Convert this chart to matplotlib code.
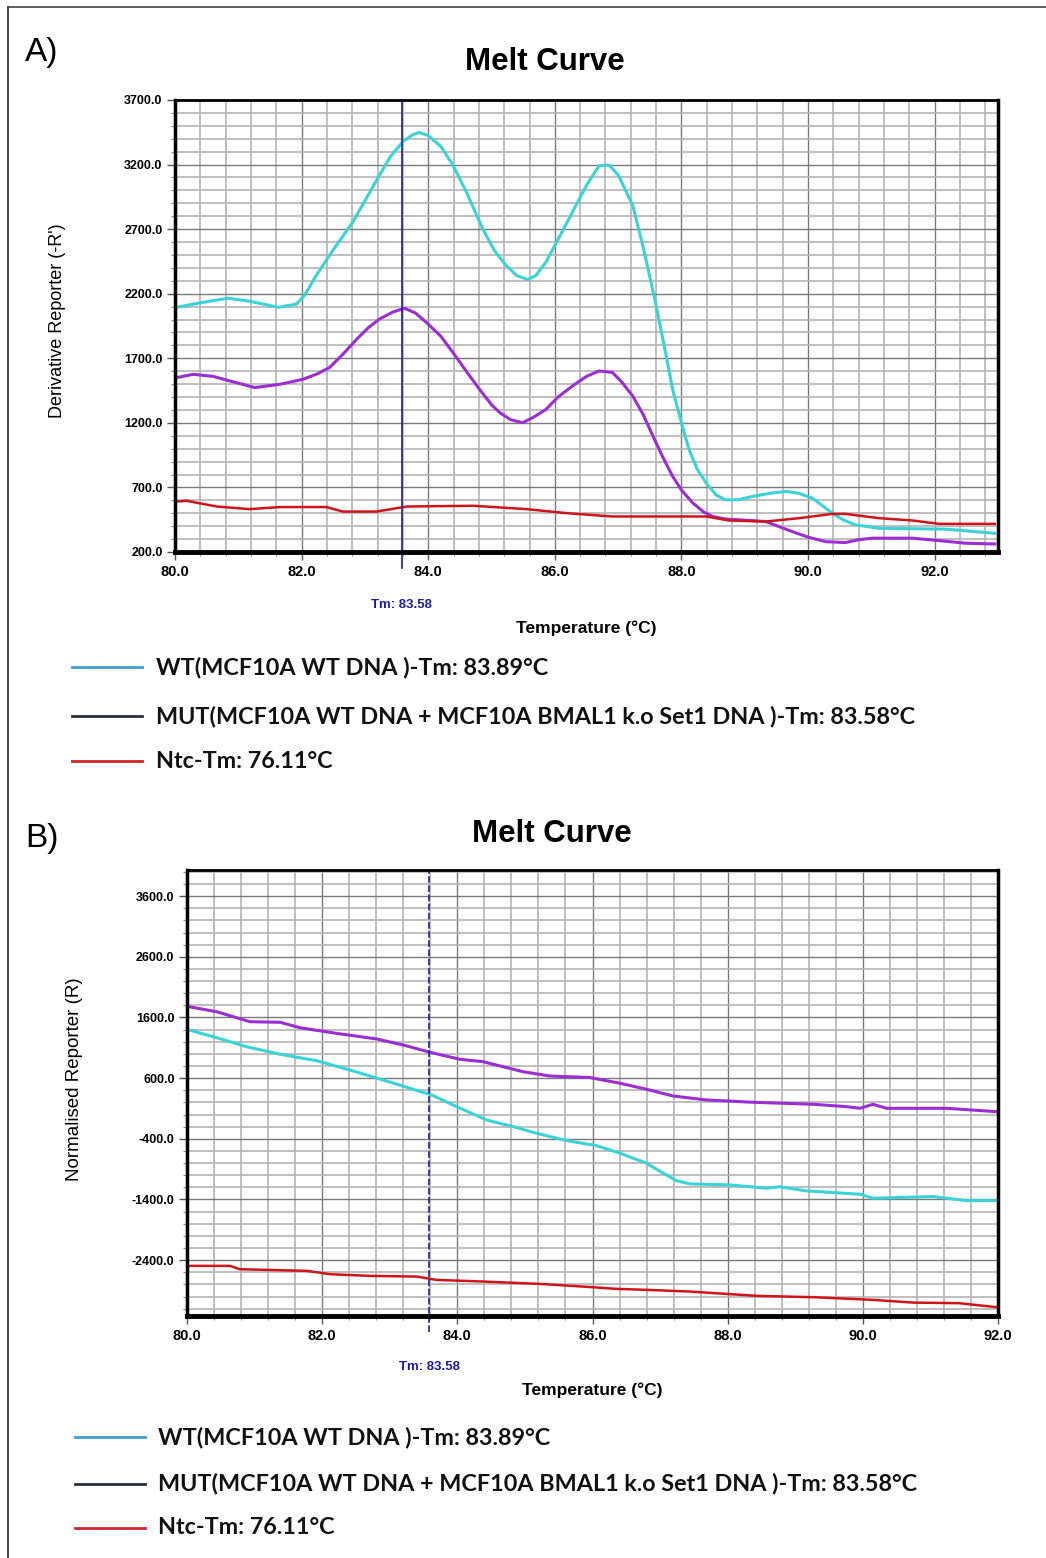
import numpy as np
import matplotlib
matplotlib.use("Agg")
import matplotlib.pyplot as plt
from matplotlib.lines import Line2D
from matplotlib.ticker import MultipleLocator, FormatStrFormatter

# ---- data: panel A, derivative reporter (-R') ----
a_wt_t = [80.03, 80.4, 80.84, 81.2, 81.63, 81.92, 82.05, 82.23, 82.5, 82.81, 83.0, 83.23,
          83.4, 83.6, 83.75, 83.86, 84.0, 84.2, 84.39, 84.6, 84.86, 85.05, 85.23, 85.4,
          85.57, 85.7, 85.86, 86.05, 86.28, 86.5, 86.7, 86.86, 87.0, 87.23, 87.4, 87.6,
          87.75, 87.86, 88.0, 88.12, 88.25, 88.39, 88.55, 88.7, 88.9, 89.12, 89.4, 89.65,
          89.85, 90.07, 90.25, 90.38, 90.55, 90.75, 91.12, 92.17, 92.95]
a_wt_v = [2095, 2130, 2165, 2140, 2095, 2120, 2190, 2341, 2540, 2756, 2920, 3118,
          3260, 3378, 3430, 3448, 3425, 3340, 3196, 2990, 2704, 2530, 2419, 2340,
          2310, 2340, 2445, 2620, 2834, 3040, 3191, 3195, 3120, 2885, 2550, 2108,
          1740, 1460, 1200, 993, 840, 734, 640, 604, 605, 630, 655, 669,
          655, 617, 550, 501, 450, 410, 384, 377, 345]

a_mut_t = [80.03, 80.29, 80.6, 80.87, 81.26, 81.66, 82.02, 82.25, 82.44, 82.65, 82.87, 83.05,
           83.23, 83.45, 83.63, 83.8, 83.97, 84.2, 84.39, 84.6, 84.81, 85.0, 85.13, 85.3,
           85.49, 85.65, 85.86, 86.05, 86.28, 86.5, 86.7, 86.91, 87.05, 87.23, 87.4, 87.55,
           87.7, 87.86, 88.0, 88.18, 88.35, 88.49, 88.7, 88.91, 89.33, 89.55, 89.75, 90.0,
           90.28, 90.59, 90.8, 91.01, 91.65, 91.96, 92.49, 92.95]
a_mut_v = [1551, 1576, 1560, 1524, 1473, 1499, 1537, 1580, 1628, 1730, 1848, 1935,
           2004, 2060, 2087, 2050, 1978, 1870, 1745, 1600, 1460, 1340, 1279, 1225,
           1201, 1240, 1304, 1400, 1486, 1560, 1602, 1590, 1520, 1408, 1260, 1097,
           940, 786, 680, 579, 510, 475, 455, 449, 436, 395, 358, 315,
           280, 273, 295, 307, 307, 293, 268, 262]

a_ntc_t = [80.03, 80.18, 80.66, 81.18, 81.66, 82.39, 82.65, 83.18, 83.66, 84.71, 85.55, 86.18,
           86.91, 88.39, 88.75, 89.33, 89.86, 90.38, 90.59, 91.12, 91.65, 92.07, 92.95]
a_ntc_v = [591, 597, 552, 532, 548, 548, 513, 513, 552, 558, 532, 501,
           475, 475, 444, 436, 462, 495, 495, 462, 444, 418, 418]

a_yticks = [200, 700, 1200, 1700, 2200, 2700, 3200, 3700]

# ---- data: panel B, normalised reporter (R) ----
b_wt_t = [80.03, 80.44, 80.88, 81.38, 81.92, 82.41, 82.90, 83.30, 83.62, 83.99, 84.43, 84.83,
          85.17, 85.62, 86.06, 86.41, 86.80, 87.05, 87.24, 87.44, 88.03, 88.58, 88.77, 89.17,
          89.96, 90.15, 91.04, 91.53, 91.98]
b_wt_v = [1393, 1266, 1118, 993, 887, 734, 570, 433, 322, 130, -89, -200,
          -308, -430, -513, -638, -803, -968, -1089, -1143, -1160, -1214, -1190, -1259,
          -1313, -1379, -1352, -1418, -1418]

b_mut_t = [80.03, 80.44, 80.93, 81.38, 81.67, 82.21, 82.81, 83.20, 83.62, 84.04, 84.38, 84.97,
           85.37, 85.96, 86.41, 86.80, 87.19, 87.69, 88.38, 89.27, 89.76, 89.96, 90.15, 90.35,
           91.24, 91.98]
b_mut_v = [1777, 1694, 1530, 1520, 1431, 1338, 1245, 1146, 1019, 910, 871, 706,
           635, 610, 515, 416, 306, 240, 202, 169, 130, 103, 169, 103,
           103, 47]

b_ntc_t = [80.03, 80.64, 80.78, 81.77, 82.12, 82.71, 83.40, 83.69, 84.38, 85.22, 85.86, 86.36,
           86.80, 87.44, 88.43, 89.27, 90.15, 90.74, 91.43, 91.98]
b_ntc_v = [-2494, -2494, -2549, -2576, -2631, -2659, -2670, -2725, -2752, -2791, -2835, -2873,
           -2889, -2917, -2988, -3010, -3054, -3099, -3109, -3175]

b_yticks = [-2400, -1400, -400, 600, 1600, 2600, 3600]

tm_line = 83.58
legend_labels = ["WT(MCF10A WT DNA )-Tm: 83.89\u00b0C",
                 "MUT(MCF10A WT DNA + MCF10A BMAL1 k.o Set1 DNA )-Tm: 83.58\u00b0C",
                 "Ntc-Tm: 76.11\u00b0C"]

CYAN = "#3ad3d6"
PURPLE = "#9a2ed2"
RED = "#d0141a"
TMBLUE = "#1c1ca6"
LEG_COLORS = ["#3f9fd6", "#2e2e3a", "#d0262b"]

plt.rcParams["font.family"] = ["Liberation Sans", "DejaVu Sans"]

fig = plt.figure(figsize=(10.46, 15.58), dpi=100)

# outer frame (left and top edges only)
fig.add_artist(Line2D([8 / 1046, 8 / 1046], [0, 1 - 7 / 1558], color="#222222", lw=1.2))
fig.add_artist(Line2D([8 / 1046, 1], [1 - 7 / 1558, 1 - 7 / 1558], color="#444444", lw=1.2))


def style_axes(ax, xlim, ylim, yticks, yminor):
    ax.set_xlim(*xlim)
    ax.set_ylim(*ylim)
    ax.xaxis.set_major_locator(MultipleLocator(2))
    ax.xaxis.set_minor_locator(MultipleLocator(0.4))
    ax.set_yticks(yticks)
    ax.yaxis.set_minor_locator(MultipleLocator(yminor))
    ax.xaxis.set_major_formatter(FormatStrFormatter("%.1f"))
    ax.yaxis.set_major_formatter(FormatStrFormatter("%.1f"))
    ax.grid(which="major", color="#7a7a7a", lw=1.0)
    ax.grid(which="minor", color="#b4b4b4", lw=1.2)
    ax.set_axisbelow(True)
    ax.tick_params(which="major", length=6, width=1, color="#555555", direction="out", pad=3)
    ax.tick_params(axis="y", labelsize=9)
    ax.tick_params(axis="x", labelsize=10.5)
    ax.tick_params(which="minor", length=3, width=0.8, color="#888888", direction="out")
    for lab in ax.get_xticklabels() + ax.get_yticklabels():
        lab.set_fontweight("bold")
    ax.spines["bottom"].set_linewidth(3.5)
    ax.spines["left"].set_linewidth(2.5)
    ax.spines["top"].set_linewidth(2)
    ax.spines["right"].set_linewidth(2.5)


def add_legend(y_px, x_line0, x_line1, x_text):
    for i, (lab, col) in enumerate(zip(legend_labels, LEG_COLORS)):
        y = 1 - y_px[i] / 1558
        fig.add_artist(Line2D([x_line0 / 1046, x_line1 / 1046], [y, y], color=col, lw=2))
        fig.text(x_text / 1046, y, lab, fontsize=16.8, fontweight="bold",
                 family=["Lato", "DejaVu Sans"], ha="left", va="center", color="#111111")


# ---------------- panel A ----------------
ax1 = fig.add_axes([175 / 1046, 1 - 552 / 1558, 823 / 1046, 452 / 1558])
style_axes(ax1, (80, 93), (200, 3700), a_yticks, 100)
ax1.plot(a_wt_t, a_wt_v, color=CYAN, lw=2.2)
ax1.plot(a_mut_t, a_mut_v, color=PURPLE, lw=2.2)
ax1.plot(a_ntc_t, a_ntc_v, color=RED, lw=1.8)
ax1.axvline(tm_line, ymin=-0.035, ymax=1, color=TMBLUE, lw=1.2, clip_on=False)
fig.text(545 / 1046, 1 - 62 / 1558, "Melt Curve", fontsize=22.5, fontweight="bold",
         ha="center", va="center")
ax1.set_ylabel("Derivative Reporter (-R')", fontsize=13)
ax1.yaxis.set_label_coords(-0.133, 0.511)
ax1.set_xlabel("Temperature (\u00b0C)", fontsize=12.5, fontweight="bold", labelpad=30)
ax1.text(tm_line, -0.118, "Tm: 83.58", transform=ax1.get_xaxis_transform(),
         ha="center", va="center", color=TMBLUE, fontsize=9.5, fontweight="bold")
fig.text(25 / 1046, 1 - 52 / 1558, "A)", fontsize=24, va="center", ha="left")
add_legend([667, 716, 761], 72, 142, 156)

# ---------------- panel B ----------------
ax2 = fig.add_axes([187 / 1046, 1 - 1316 / 1558, 811 / 1046, 446 / 1558])
style_axes(ax2, (80, 92), (-3320, 4030), b_yticks, 200)
ax2.plot(b_wt_t, b_wt_v, color=CYAN, lw=2.2)
ax2.plot(b_mut_t, b_mut_v, color=PURPLE, lw=2.2)
ax2.plot(b_ntc_t, b_ntc_v, color=RED, lw=1.8)
ax2.axvline(tm_line, ymin=-0.035, ymax=1, color=TMBLUE, lw=1.2, ls=(0, (4, 1.5)), clip_on=False)
fig.text(552 / 1046, 1 - 834 / 1558, "Melt Curve", fontsize=22.5, fontweight="bold",
         ha="center", va="center")
ax2.set_ylabel("Normalised Reporter (R)", fontsize=13.5)
ax2.yaxis.set_label_coords(-0.128, 0.53)
ax2.set_xlabel("Temperature (\u00b0C)", fontsize=12.5, fontweight="bold", labelpad=29)
ax2.text(tm_line, -0.115, "Tm: 83.58", transform=ax2.get_xaxis_transform(),
         ha="center", va="center", color=TMBLUE, fontsize=9.5, fontweight="bold")
fig.text(25 / 1046, 1 - 838 / 1558, "B)", fontsize=24, va="center", ha="left")
add_legend([1437, 1484, 1528], 75, 145, 158)

fig.savefig("out.png", dpi=100)
